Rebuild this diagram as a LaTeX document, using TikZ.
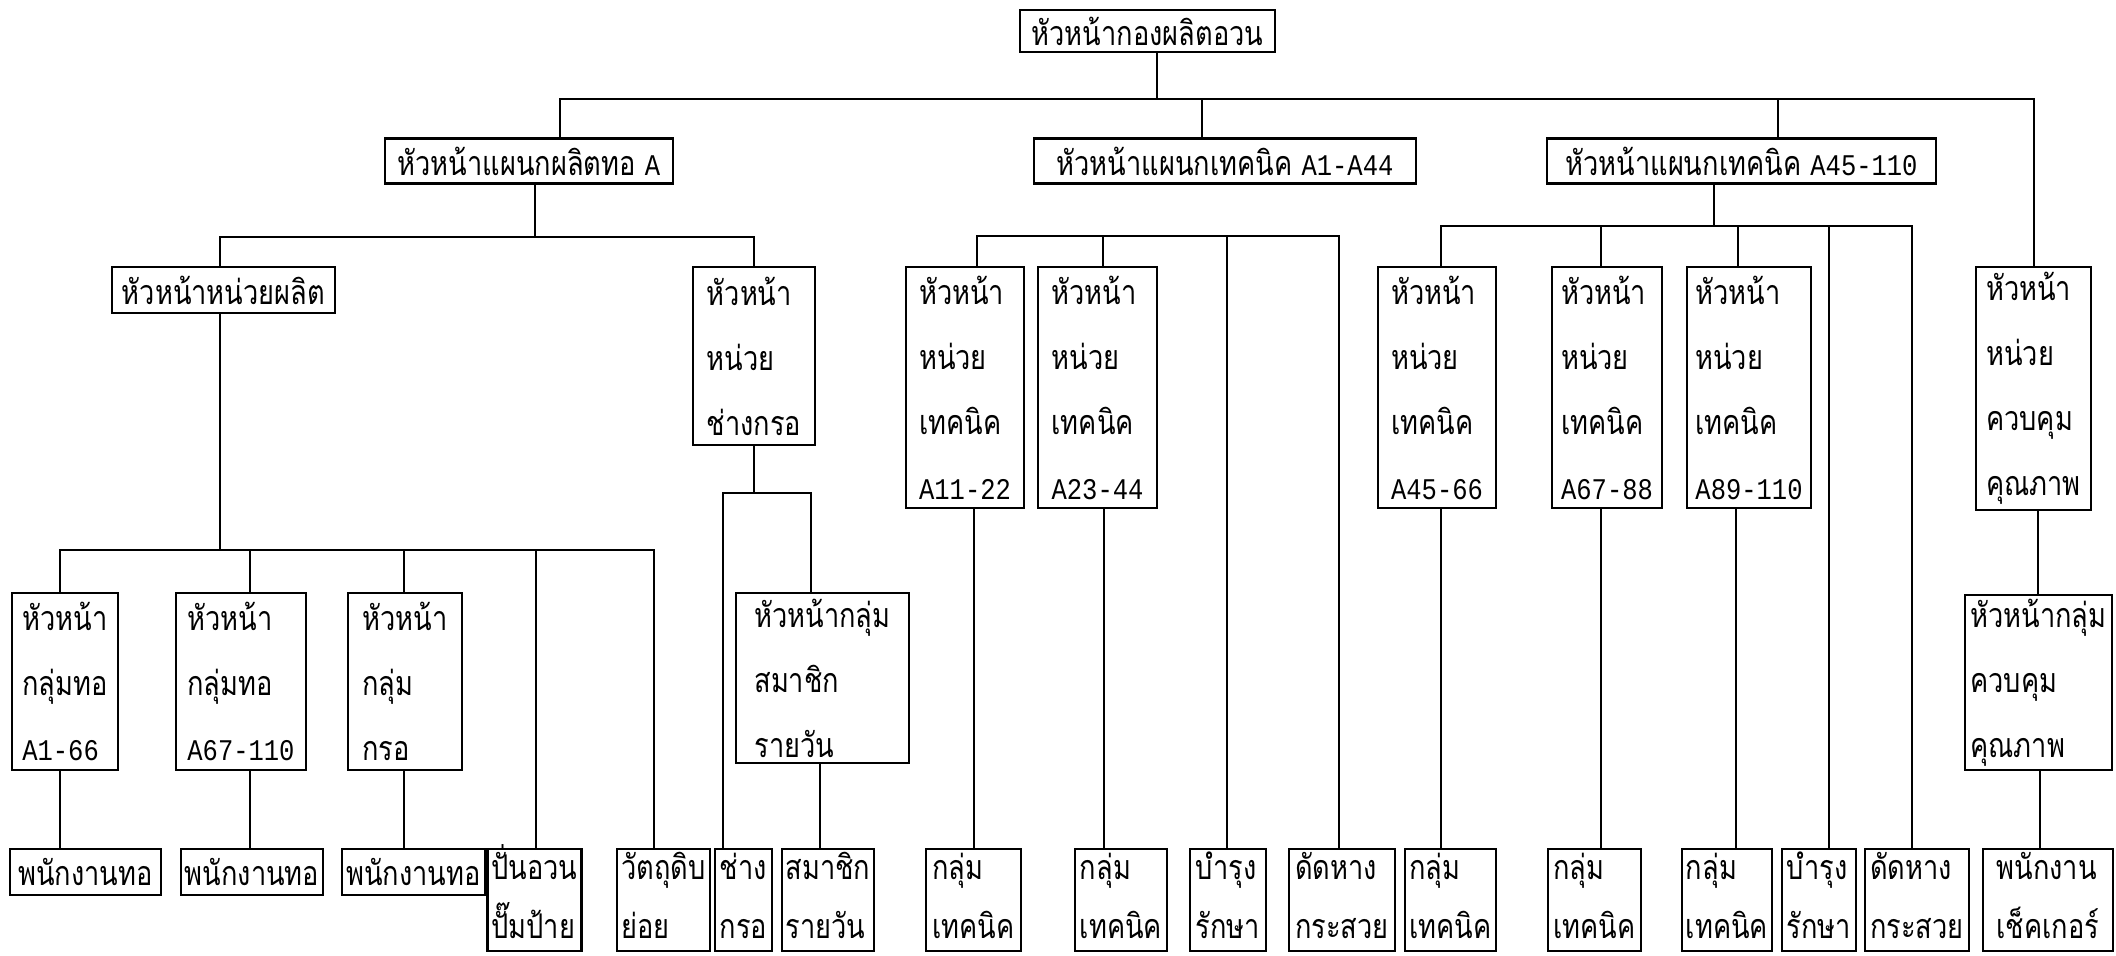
\documentclass[tikz,border=0pt]{standalone}
\usepackage{fontspec}
\newfontfamily\thaifont[Script=Thai,FakeStretch=0.8]{Loma}
\newfontfamily\latnfont[FakeStretch=0.85]{Liberation Mono}
\newcommand\latn[1]{{\latnfont\fontsize{15}{32.5}\selectfont #1}}
\newcommand\vcon[3]{\draw[ln] (#1,0 |- #2) -- (#1,0 |- #3);}
\newcommand\twol[2]{\rule{0pt}{14pt}\smash{#1}\\\smash{#2}\rule[-5pt]{0pt}{5pt}}
\begin{document}
\begin{tikzpicture}[x=0.5pt,y=-0.5pt,
  box/.style={draw, line width=1.1pt, inner sep=2pt, align=left,
    font=\thaifont\fontsize{17}{32.5}\selectfont},
  bot/.style={box, inner ysep=0.5pt, font=\thaifont\fontsize{17}{29.5}\selectfont},
  ln/.style={line width=1pt},
  sz/.style 2 args={minimum width=#1*0.5pt, minimum height=#2*0.5pt}]
\useasboundingbox (0,0) rectangle (2116,955);

% level 1 and 2
\node[box,sz={255}{42}] (top) at (1147.5,31) {หัวหน้ากองผลิตอวน};
\node[box,sz={288}{45}] (pa) at (529,161) {หัวหน้าแผนกผลิตทอ \latn{A}};
\node[box,sz={382}{45}] (ta) at (1225,161) {หัวหน้าแผนกเทคนิค \latn{A1-A44}};
\node[box,sz={389}{45}] (tb) at (1741.5,161) {หัวหน้าแผนกเทคนิค \latn{A45-110}};

% level 3
\node[box,sz={223}{46}] (pu) at (223.5,290) {หัวหน้าหน่วยผลิต};
\node[box,sz={122}{178}] (ku) at (754,356) {หัวหน้า\\หน่วย\\ช่างกรอ};
\node[box,sz={118}{241}] (t1) at (965,387.5) {หัวหน้า\\หน่วย\\เทคนิค\\\latn{A11-22}};
\node[box,sz={119}{241}] (t2) at (1097.5,387.5) {หัวหน้า\\หน่วย\\เทคนิค\\\latn{A23-44}};
\node[box,sz={118}{241}] (t3) at (1437,387.5) {หัวหน้า\\หน่วย\\เทคนิค\\\latn{A45-66}};
\node[box,sz={110}{241}] (t4) at (1607,387.5) {หัวหน้า\\หน่วย\\เทคนิค\\\latn{A67-88}};
\node[box,sz={124}{241}] (t5) at (1749,387.5) {หัวหน้า\\หน่วย\\เทคนิค\\\latn{A89-110}};
\node[box,sz={115}{243}] (qu) at (2033.5,388.5) {หัวหน้า\\หน่วย\\ควบคุม\\คุณภาพ};

% level 4
\node[box,sz={106}{177}] (g1) at (65,681.5) {หัวหน้า\\กลุ่มทอ\\\latn{A1-66}};
\node[box,sz={130}{177}] (g2) at (241,681.5) {หัวหน้า\\กลุ่มทอ\\\latn{A67-110}};
\node[box,sz={114}{177}] (g3) at (405,681.5) {หัวหน้า\\กลุ่ม\\กรอ};
\node[box,sz={173}{170}] (sg) at (822.5,678) {หัวหน้ากลุ่ม\\สมาชิก\\รายวัน};
\node[box,sz={147}{175}] (qg) at (2038.5,682.5) {หัวหน้ากลุ่ม\\ควบคุม\\คุณภาพ};

% bottom row
\node[bot,sz={151}{46}] (n1) at (85.5,872) {พนักงานทอ};
\node[bot,sz={142}{46}] (n2) at (252,872) {พนักงานทอ};
\node[bot,sz={135}{46}] (n3) at (413.5,872) {พนักงานทอ};
\node[bot,sz={93}{102}] (n4) at (534.5,900) {\twol{ปั่นอวน}{ปั๊มป้าย}};
\node[bot,sz={93}{102}] (n5) at (663.5,900) {\twol{วัตถุดิบ}{ย่อย}};
\node[bot,sz={57}{102}] (n6) at (743.5,900) {\twol{ช่าง}{กรอ}};
\node[bot,sz={88}{102}] (n7) at (828,900) {\twol{สมาชิก}{รายวัน}};
\node[bot,sz={95}{102}] (n8) at (973.5,900) {\twol{กลุ่ม}{เทคนิค}};
\node[bot,sz={92}{102}] (n9) at (1121,900) {\twol{กลุ่ม}{เทคนิค}};
\node[bot,sz={76}{102}] (n10) at (1228,900) {\twol{บำรุง}{รักษา}};
\node[bot,sz={106}{102}] (n11) at (1342,900) {\twol{ดัดหาง}{กระสวย}};
\node[bot,sz={91}{102}] (n12) at (1450.5,900) {\twol{กลุ่ม}{เทคนิค}};
\node[bot,sz={93}{102}] (n13) at (1594.5,900) {\twol{กลุ่ม}{เทคนิค}};
\node[bot,sz={88}{102}] (n14) at (1727,900) {\twol{กลุ่ม}{เทคนิค}};
\node[bot,sz={74}{102}] (n15) at (1819,900) {\twol{บำรุง}{รักษา}};
\node[bot,sz={104}{102}] (n16) at (1917,900) {\twol{ดัดหาง}{กระสวย}};
\node[bot,sz={130}{102}] (n17) at (2048,900) {\twol{พนักงาน}{เช็คเกอร์}};

% top bar
\coordinate (a0) at (1157,99);
\coordinate (a1) at (560,99);
\coordinate (a2) at (1202,99);
\coordinate (a3) at (1778,99);
\coordinate (a4) at (2034,99);
\draw[ln] (a0 |- top.south) -- (a0);
\draw[ln] (a1 |- pa.north) -- (a1) -- (a4) -- (a4 |- qu.north);
\draw[ln] (a2) -- (a2 |- ta.north);
\draw[ln] (a3) -- (a3 |- tb.north);

% under production section
\coordinate (p0) at (535,237);
\coordinate (p1) at (220,237);
\coordinate (p2) at (754,237);
\draw[ln] (p0 |- pa.south) -- (p0);
\draw[ln] (p1 |- pu.north) -- (p1) -- (p2) -- (p2 |- ku.north);

% under technical A1-A44 (bar only)
\coordinate (q1) at (977,236);
\coordinate (q2) at (1103,236);
\coordinate (q3) at (1227,236);
\coordinate (q4) at (1339,236);
\draw[ln] (q1 |- t1.north) -- (q1) -- (q4) -- (q4 |- n11.north);
\draw[ln] (q2) -- (q2 |- t2.north);
\draw[ln] (q3) -- (q3 |- n10.north);

% under technical A45-110
\coordinate (r0) at (1714,226);
\coordinate (r1) at (1441,226);
\coordinate (r2) at (1601,226);
\coordinate (r3) at (1738,226);
\coordinate (r4) at (1829,226);
\coordinate (r5) at (1912,226);
\draw[ln] (r0 |- tb.south) -- (r0);
\draw[ln] (r1 |- t3.north) -- (r1) -- (r5) -- (r5 |- n16.north);
\draw[ln] (r2) -- (r2 |- t4.north);
\draw[ln] (r3) -- (r3 |- t5.north);
\draw[ln] (r4) -- (r4 |- n15.north);

% under production unit
\coordinate (s0) at (220,550);
\coordinate (s1) at (60,550);
\coordinate (s2) at (250,550);
\coordinate (s3) at (404,550);
\coordinate (s4) at (536,550);
\coordinate (s5) at (654,550);
\draw[ln] (s0 |- pu.south) -- (s0);
\draw[ln] (s1 |- g1.north) -- (s1) -- (s5) -- (s5 |- n5.north);
\draw[ln] (s2) -- (s2 |- g2.north);
\draw[ln] (s3) -- (s3 |- g3.north);
\draw[ln] (s4) -- (s4 |- n4.north);

% under winding unit
\coordinate (k0) at (754,493);
\coordinate (k1) at (723,493);
\coordinate (k2) at (811,493);
\draw[ln] (k0 |- ku.south) -- (k0);
\draw[ln] (k1 |- n6.north) -- (k1) -- (k2) -- (k2 |- sg.north);

% single vertical links
\vcon{60}{g1.south}{n1.north}
\vcon{250}{g2.south}{n2.north}
\vcon{404}{g3.south}{n3.north}
\vcon{820}{sg.south}{n7.north}
\vcon{974}{t1.south}{n8.north}
\vcon{1104}{t2.south}{n9.north}
\vcon{1441}{t3.south}{n12.north}
\vcon{1601}{t4.south}{n13.north}
\vcon{1736}{t5.south}{n14.north}
\vcon{2038}{qu.south}{qg.north}
\vcon{2040}{qg.south}{n17.north}
\end{tikzpicture}
\end{document}
